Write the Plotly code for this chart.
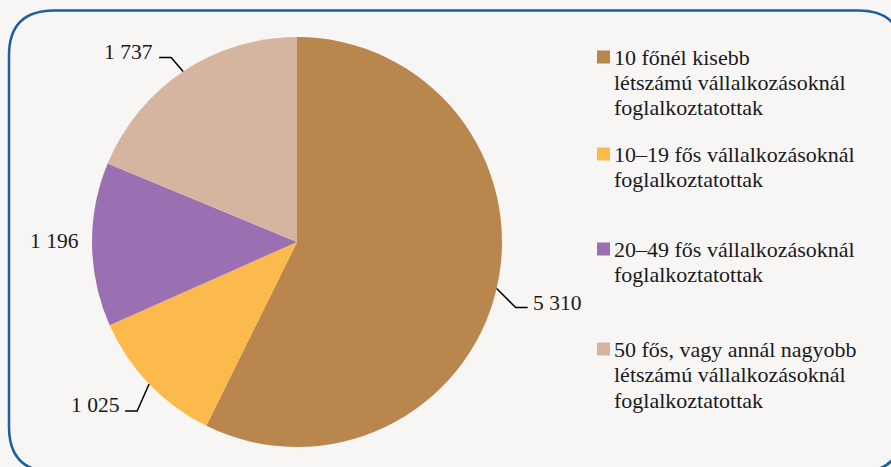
import math
import plotly.graph_objects as go

# ---- data ----
categories = [
    "10 főnél kisebb<br>létszámú vállalkozásoknál<br>foglalkoztatottak",
    "10–19 fős vállalkozásoknál<br>foglalkoztatottak",
    "20–49 fős vállalkozásoknál<br>foglalkoztatottak",
    "50 fős, vagy annál nagyobb<br>létszámú vállalkozásoknál<br>foglalkoztatottak",
]
values = [5310, 1025, 1196, 1737]
value_labels = ["5 310", "1 025", "1 196", "1 737"]
colors = ["#b9874d", "#fcb94c", "#9b70b2", "#d5b5a0"]

# ---- layout constants (pixels) ----
W, H = 891, 467
CX, CY, R = 297, 242, 205
FONT = "Liberation Serif"
BG = "#f7f6f5"
TXT = "#1a1a1a"

def px(x):
    return x / W

def py(y):
    return 1 - y / H

fig = go.Figure()
fig.add_trace(go.Pie(
    labels=categories,
    values=values,
    sort=False,
    direction="clockwise",
    rotation=0,
    marker=dict(colors=colors, line=dict(width=0)),
    textinfo="none",
    hoverinfo="label+value",
    showlegend=False,
    domain=dict(x=[px(CX - R), px(CX + R)], y=[py(CY + R), py(CY - R)]),
))

# label leader-line offsets relative to slice edge point
label_style = [
    dict(elbow=(19, 19), end=(31, 19), text=(34, 14), anchor="left"),
    dict(elbow=(-12, 27), end=(-24, 27), text=(-28, 21), anchor="right"),
    dict(elbow=None, end=None, text=(-11, -4), anchor="right"),
    dict(elbow=(-12, -14), end=(-24, -14), text=(-28, -20), anchor="right"),
]

total = sum(values)
cum = 0
shapes = []
annotations = []
for v, lab, st in zip(values, value_labels, label_style):
    mid = (cum + v / 2) / total * 2 * math.pi
    cum += v
    ex = CX + R * math.sin(mid)
    ey = CY - R * math.cos(mid)
    if st["elbow"] is not None:
        x1, y1 = ex + st["elbow"][0], ey + st["elbow"][1]
        x2, y2 = ex + st["end"][0], ey + st["end"][1]
        shapes.append(dict(
            type="path", xref="paper", yref="paper",
            path=f"M {px(ex)} {py(ey)} L {px(x1)} {py(y1)} L {px(x2)} {py(y2)}",
            line=dict(color="#000000", width=1.5),
        ))
    annotations.append(dict(
        x=px(ex + st["text"][0]), y=py(ey + st["text"][1]),
        xref="paper", yref="paper", text=lab, showarrow=False,
        xanchor=st["anchor"], yanchor="middle",
        font=dict(family=FONT, size=21.5, color=TXT),
    ))

# manual legend
legend_first_line = [57, 154, 249, 349]
LINE_GAP = 25.5
for cat, col, yc in zip(categories, colors, legend_first_line):
    shapes.append(dict(
        type="rect", xref="paper", yref="paper",
        x0=px(597), x1=px(610), y0=py(yc - 6.5), y1=py(yc + 6.5),
        fillcolor=col, line=dict(width=0),
    ))
    for i, line in enumerate(cat.split("<br>")):
        annotations.append(dict(
            x=px(612), y=py(yc + i * LINE_GAP), xref="paper", yref="paper",
            text=line, showarrow=False, xanchor="left", yanchor="middle", align="left",
            font=dict(family=FONT, size=22, color=TXT),
        ))

# rounded frame
L, T, Rr, B, rad = 9, 10.5, 903, 472, 45
frame = (
    f"M {px(L + rad)} {py(T)} L {px(Rr - rad)} {py(T)} "
    f"Q {px(Rr)} {py(T)} {px(Rr)} {py(T + rad)} "
    f"L {px(Rr)} {py(B - rad)} Q {px(Rr)} {py(B)} {px(Rr - rad)} {py(B)} "
    f"L {px(L + rad)} {py(B)} Q {px(L)} {py(B)} {px(L)} {py(B - rad)} "
    f"L {px(L)} {py(T + rad)} Q {px(L)} {py(T)} {px(L + rad)} {py(T)} Z"
)
shapes.append(dict(type="path", xref="paper", yref="paper", path=frame,
                   line=dict(color="#1c5f9f", width=2.5), layer="below"))

fig.update_layout(
    width=W, height=H,
    margin=dict(l=0, r=0, t=0, b=0),
    paper_bgcolor=BG, plot_bgcolor=BG,
    font=dict(family=FONT),
    shapes=shapes, annotations=annotations,
    showlegend=False,
)

fig.write_html(
    "out.html",
    config={"displayModeBar": False},
    post_script="document.body.style.margin='0';document.body.style.background='%s';" % BG,
)
